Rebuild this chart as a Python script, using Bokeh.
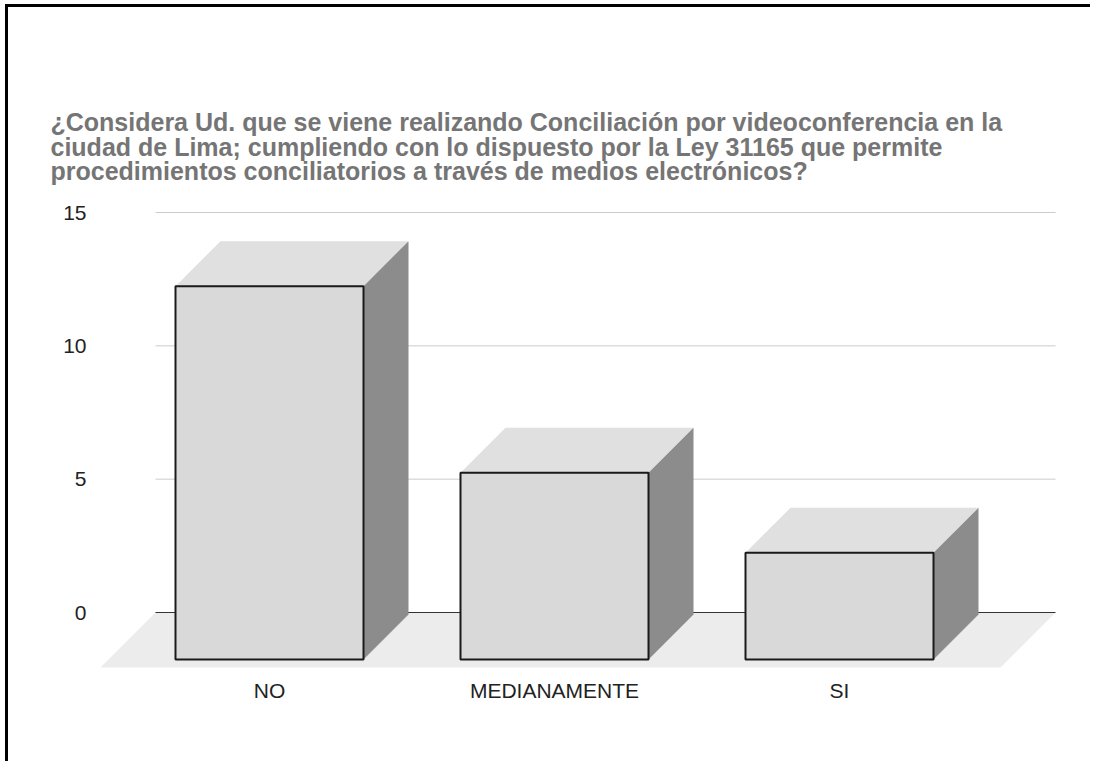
import numpy as np
from bokeh.plotting import figure
from bokeh.models import Range1d, FixedTicker, Title
from bokeh.embed import file_html
from bokeh.resources import INLINE

# ---- data ----
categories = ["NO", "MEDIANAMENTE", "SI"]
values = [14, 7, 4]
y_ticks = [0, 5, 10, 15]
title_text = ("¿Considera Ud. que se viene realizando Conciliación por videoconferencia en la\n"
              "ciudad de Lima; cumpliendo con lo dispuesto por la Ley 31165 que permite\n"
              "procedimientos conciliatorios a través de medios electrónicos?")

# ---- geometry (data units; x: 1 unit per category, y: value units) ----
PX_X = 285.0          # pixels per x unit
PX_Y = 400.0 / 15.0   # pixels per y unit
HALF_W = 94 / PX_X
DX = 45 / PX_X
DY = 45 / PX_Y
FY = 47 / PX_Y
FLOOR_DX = 55 / PX_X
FLOOR_DY = 55 / PX_Y
BACK_L = 28.5 / PX_X
BACK_R = 928.5 / PX_X

x0 = -31.5 / PX_X
x1 = 933.5 / PX_X

p = figure(width=1085, height=757,
           x_range=Range1d(x0, x1), y_range=Range1d(-60 / PX_Y, 412 / PX_Y),
           output_backend="svg", toolbar_location=None,
           min_border_left=87, min_border_right=33, min_border_top=193, min_border_bottom=92,
           background_fill_color="white", border_fill_color="white")
p.styles = {"border-top": "3px solid black", "border-left": "3px solid black",
            "margin-top": "4px", "margin-left": "5px"}
p.outline_line_color = None
p.xgrid.visible = False
p.ygrid.visible = False

p.title = Title(text=title_text, align="left", offset=-45,
                text_font="Liberation Sans", text_font_size="25px",
                text_font_style="bold", text_color="#757575",
                text_line_height=0.88, standoff=30)

# floor
p.patch([BACK_L, BACK_R, BACK_R - FLOOR_DX, BACK_L - FLOOR_DX],
        [0, 0, -FLOOR_DY, -FLOOR_DY], fill_color="#ececec", line_color=None)

# gridlines
grid_vals = [t for t in y_ticks if t != 0]
p.segment(x0=[BACK_L] * len(grid_vals), y0=grid_vals, x1=[BACK_R] * len(grid_vals), y1=grid_vals,
          line_color="#cccccc", line_width=1)
p.segment(x0=[BACK_L], y0=[0], x1=[BACK_R], y1=[0], line_color="#333333", line_width=1)

# bars
centers = np.arange(len(categories)) + 0.5
vals = np.array(values, dtype=float)
left = centers - HALF_W
right = centers + HALF_W
top = vals - FY
bottom = np.full_like(vals, -FY)

top_xs = [[l, r, r + DX, l + DX] for l, r in zip(left, right)]
top_ys = [[t, t, t + DY, t + DY] for t in top]
side_xs = [[r, r + DX, r + DX, r] for r in right]
side_ys = [[b, b + DY, t + DY, t] for b, t in zip(bottom, top)]

p.patches(top_xs, top_ys, fill_color="#e0e0e0", line_color=None)
p.patches(side_xs, side_ys, fill_color="#8c8c8c", line_color=None)
p.quad(left=left, right=right, bottom=bottom, top=top,
       fill_color="#d9d9d9", line_color="#1a1a1a", line_width=2)

# axes
p.yaxis.ticker = FixedTicker(ticks=y_ticks)
p.yaxis.axis_line_color = None
p.yaxis.major_tick_line_color = None
p.yaxis.minor_tick_line_color = None
p.yaxis.major_tick_out = 0
p.yaxis.major_tick_in = 0
p.yaxis.major_label_standoff = 9
p.yaxis.major_label_text_font = "Liberation Sans"
p.yaxis.major_label_text_font_size = "21px"
p.yaxis.major_label_text_color = "#222222"

p.xaxis.ticker = FixedTicker(ticks=list(centers))
p.xaxis.major_label_overrides = {float(c): cat for c, cat in zip(centers, categories)}
p.xaxis.axis_line_color = None
p.xaxis.major_tick_line_color = None
p.xaxis.minor_tick_line_color = None
p.xaxis.major_tick_out = 0
p.xaxis.major_tick_in = 0
p.xaxis.major_label_standoff = 6
p.xaxis.major_label_text_font = "Liberation Sans"
p.xaxis.major_label_text_font_size = "21px"
p.xaxis.major_label_text_color = "#222222"

open("out.html", "w").write(file_html(p, INLINE))
